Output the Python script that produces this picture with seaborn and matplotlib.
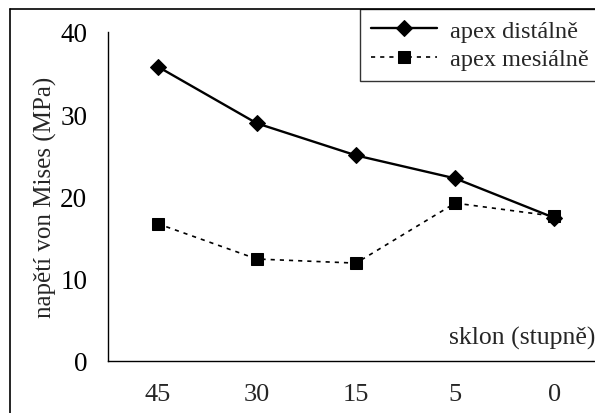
import numpy as np
import pandas as pd
import matplotlib
matplotlib.use("Agg")
import matplotlib.pyplot as plt
from matplotlib.lines import Line2D
import seaborn as sns

# values
angles = ["45", "30", "15", "5", "0"]
distal = [35.8, 28.9, 25.0, 22.2, 17.4]
mesial = [16.7, 12.4, 11.9, 19.2, 17.6]

sns.set_style("white")
plt.rcParams["font.family"] = ["Liberation Serif", "DejaVu Serif"]
plt.rcParams["font.size"] = 19

W, H = 595, 414
fig = plt.figure(figsize=(W / 100, H / 100), dpi=100)
ax = fig.add_axes([108 / W, 1 - 362 / H, (604 - 108) / W, (362 - 33) / H])

df = pd.DataFrame({"sklon": angles, "distal": distal, "mesial": mesial})

sns.lineplot(data=df, x="sklon", y="distal", ax=ax, sort=False, color="black",
             linewidth=1.7, marker="D", markersize=8, markeredgecolor="black",
             label="apex distálně")
sns.lineplot(data=df, x="sklon", y="mesial", ax=ax, sort=False, color="black",
             linewidth=1.2, marker="s", markersize=8.5, markeredgecolor="black",
             label="apex mesiálně")
ax.lines[1].set_dashes((2.5, 3))

ax.set_ylim(0, 40)
ax.set_yticks([0, 10, 20, 30, 40])
ax.set_xlim(-0.5, len(angles) - 0.5)
ax.set_xticks(np.arange(len(angles) + 1) - 0.5)
ax.set_xticklabels([])
ax.set_xticks(np.arange(len(angles)), minor=True)
ax.set_xticklabels(angles, minor=True)
ax.tick_params(axis="x", which="major", direction="out", length=6, width=1, colors="black")
ax.tick_params(axis="x", which="minor", length=0, pad=16)
ax.tick_params(axis="y", direction="out", length=6, width=1, pad=9, colors="black")
ax.tick_params(labelsize=19.5, labelcolor="black")

for s in ["top", "right"]:
    ax.spines[s].set_visible(False)
for s in ["left", "bottom"]:
    ax.spines[s].set_color("black")
    ax.spines[s].set_linewidth(1)

ax.set_xlabel("")
ax.set_ylabel("napětí von Mises (MPa)", fontsize=18, va="center")
ax.yaxis.set_label_coords((45 - 108) / 496, 0.5)
fig.text(595 / W, 1 - 338 / H, "sklon (stupně)", ha="right", va="center", fontsize=18.5)

leg = ax.legend(loc="upper left", bbox_to_anchor=(360 / W, 1 - 10 / H),
                bbox_transform=fig.transFigure, frameon=True, fancybox=False,
                borderaxespad=0, fontsize=17.5, handlelength=2.7, handletextpad=0.55,
                labelspacing=0.25, borderpad=0.45)
leg.get_frame().set_edgecolor("black")
leg.get_frame().set_linewidth(1)

# outer chart frame
fig.add_artist(Line2D([10 / W, 10 / W], [0, 1 - 10 / H], color="black", linewidth=1.2))
fig.add_artist(Line2D([10 / W, 1], [1 - 10 / H, 1 - 10 / H], color="black", linewidth=1.2))

fig.savefig("out.png", dpi=100)
